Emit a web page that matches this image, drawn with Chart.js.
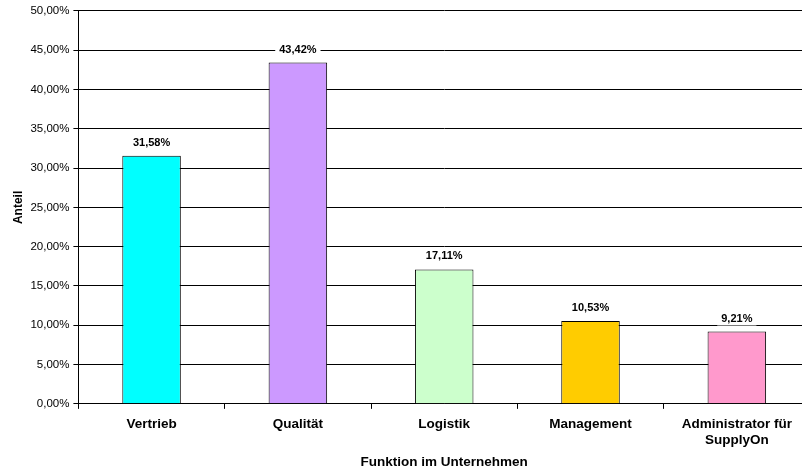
<!DOCTYPE html>
<html>
  <head>
    <meta charset="utf-8">
    <title>Funktion im Unternehmen</title>
    <script src="https://cdn.jsdelivr.net/npm/chart.js"></script>
    <style>
      body { margin: 0; padding: 0; background: #fff; overflow: hidden; }
      #wrap { width: 810px; height: 470px; position: relative; }
    </style>
  </head>
  <body>
    <div id="wrap"><canvas id="chart"></canvas></div>

    <script>
      // data
      const categories = ['Vertrieb', 'Qualität', 'Logistik', 'Management', ['Administrator für', 'SupplyOn']];
      const shares = [0.3158, 0.4342, 0.1711, 0.1053, 0.0921];
      const barColors = ['#00FFFF', '#CC99FF', '#CCFFCC', '#FFCC00', '#FF99CC'];
      const yMax = 0.5;
      const yStep = 0.05;

      const fmtPct = v => (v * 100).toFixed(2).replace('.', ',') + '%';
      const fontFam = '"Liberation Sans", Arial, sans-serif';

      // value labels above each bar, white box behind the text
      const valueLabels = {
        id: 'valueLabels',
        afterDatasetsDraw(chart) {
          const ctx = chart.ctx;
          const meta = chart.getDatasetMeta(0);
          ctx.save();
          ctx.font = 'bold 11px ' + fontFam;
          ctx.textAlign = 'center';
          ctx.textBaseline = 'middle';
          meta.data.forEach((bar, i) => {
            const txt = fmtPct(shares[i]);
            const w = ctx.measureText(txt).width + 8;
            const y = bar.y - 13;
            ctx.fillStyle = '#fff';
            ctx.fillRect(bar.x - w / 2, y - 7, w, 14);
            ctx.fillStyle = '#000';
            ctx.fillText(txt, bar.x, y);
          });
          ctx.restore();
        }
      };

      new Chart(document.getElementById('chart'), {
        type: 'bar',
        data: {
          labels: categories,
          datasets: [{
            data: shares,
            backgroundColor: barColors,
            borderColor: '#000',
            borderWidth: 1,
            barPercentage: 0.4,
            categoryPercentage: 1.0
          }]
        },
        options: {
          responsive: true,
          maintainAspectRatio: false,
          animation: false,
          layout: { padding: { top: 7, left: 11, right: 0, bottom: 0 } },
          plugins: {
            legend: { display: false },
            tooltip: { enabled: false }
          },
          scales: {
            x: {
              offset: true,
              // two-line label makes the axis too tall, trim it so the plot reaches down
              afterFit: scale => { scale.height -= 8; },
              grid: { display: true, drawOnChartArea: false, drawTicks: true, tickLength: 5, color: '#000', offset: true },
              border: { color: '#000', width: 1 },
              ticks: { color: '#000', font: { family: fontFam, size: 13.5, weight: 'bold', lineHeight: 1.22 }, padding: 7, maxRotation: 0, autoSkip: false },
              title: { display: true, text: 'Funktion im Unternehmen', color: '#000', font: { family: fontFam, size: 13.5, weight: 'bold' }, padding: { top: 6, bottom: 0 } }
            },
            y: {
              min: 0,
              max: yMax,
              ticks: { stepSize: yStep, color: '#000', font: { family: fontFam, size: 11.5 }, padding: 4, callback: v => fmtPct(v) },
              grid: { color: '#000', lineWidth: 1, tickLength: 5 },
              border: { color: '#000', width: 1 },
              title: { display: true, text: 'Anteil', color: '#000', font: { family: fontFam, size: 12, weight: 'bold' }, padding: { top: 0, bottom: 1 } }
            }
          }
        },
        plugins: [valueLabels]
      });
    </script>
  </body>
</html>
